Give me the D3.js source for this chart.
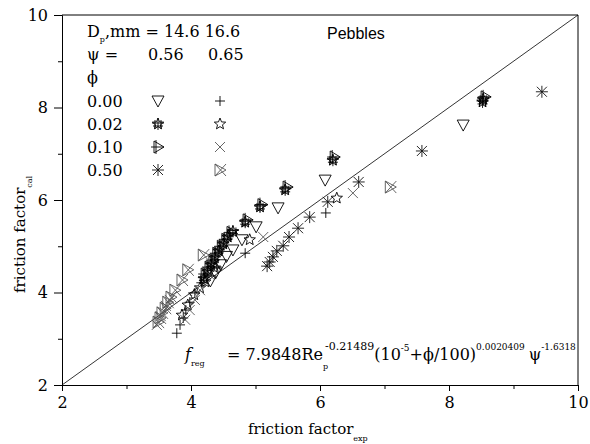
<!DOCTYPE html>
<html>
<head>
<meta charset="utf-8">
<script src="https://cdn.jsdelivr.net/npm/d3@7"></script>
<style>
  body { margin: 0; background: #fff; }
  svg text { font-family: "DejaVu Serif", serif; fill: #000; }
</style>
</head>
<body>
<div id="chart"></div>
<script>
// axis ticks
var majorTicks = [2, 4, 6, 8, 10],
    minorTicks = [3, 5, 7, 9];

// psi = 0.56 (Dp = 14.6 mm)
var tri000 = [[4.30,4.25],[4.38,4.42],[4.46,4.60],[4.55,4.78],[4.65,4.92],[4.79,5.14],[5.01,5.42],[5.35,5.83],[6.08,6.43],[8.22,7.62]];
var star002 = [[4.20,4.30],[4.26,4.45],[4.31,4.60],[4.37,4.75],[4.43,4.90],[4.50,5.05],[4.57,5.20],[4.65,5.32],[4.84,5.52],[5.07,5.85],[5.46,6.22],[6.20,6.86],[8.52,8.12],[8.53,8.18]];
var triPlus010 = [[4.22,4.40],[4.28,4.55],[4.34,4.70],[4.40,4.85],[4.47,5.00],[4.54,5.15],[4.62,5.30],[4.87,5.57],[5.10,5.90],[5.49,6.28],[6.22,6.93],[8.56,8.23]];
var ast050 = [[5.18,4.57],[5.22,4.66],[5.27,4.77],[5.33,4.90],[5.43,5.01],[5.52,5.20],[5.66,5.39],[5.84,5.63],[6.12,5.96],[6.60,6.39],[7.58,7.06],[9.44,8.34]];

// psi = 0.65 (Dp = 16.6 mm)
var plus000 = [[3.78,3.12],[3.83,3.30],[3.88,3.45],[3.92,3.62],[3.98,3.79],[4.06,3.99],[4.16,4.21],[4.26,4.38],[4.40,4.55],[4.84,4.85],[6.09,5.72]];
var openStar002 = [[3.86,3.51],[3.95,3.73],[4.05,3.95],[4.14,4.10],[4.22,4.23],[4.37,4.53],[4.91,5.14],[6.26,6.04]];
var x010 = [[3.47,3.30],[3.53,3.49],[3.61,3.71],[3.67,3.84],[3.91,3.41],[3.98,3.62],[4.06,3.84],[4.14,4.05],[4.29,4.38],[5.12,5.20],[6.51,6.15]];
var triX050 = [[3.49,3.36],[3.52,3.45],[3.55,3.56],[3.60,3.66],[3.64,3.79],[3.69,3.90],[3.75,4.05],[3.86,4.27],[3.95,4.49],[4.19,4.81],[7.09,6.28]];

var phiLabels = ["0.00", "0.02", "0.10", "0.50"];

// set SVG
var svg = d3.select("#chart").append("svg")
    .attr("width", 590)
    .attr("height", 444);

var x = d3.scaleLinear().domain([2, 10]).range([62, 578]);
var y = d3.scaleLinear().domain([2, 10]).range([385, 15]);

// marker shapes
function starPath(ro, ri) {
    var p = "";
    for (var i = 0; i < 10; i++) {
        var r = i % 2 ? ri : ro,
            a = -Math.PI / 2 + i * Math.PI / 5;
        p += (i ? "L" : "M") + (r * Math.cos(a)).toFixed(2) + "," + (r * Math.sin(a)).toFixed(2);
    }
    return p + "Z";
}
var shapes = {
    triDown: "M-6,-5L6,-5L0,6Z",
    darkStar: starPath(6, 2.6) + "M-6,-1H6M-5,2H5M0,-6V6M-3,-4V5M3,-4V5",
    triPlus: "M-4,-6L6,0L-4,6ZM-2,-7V7M-7,0H6",
    asterisk: "M-6,0H6M0,-6V6M-5,-5L5,5M-5,5L5,-5",
    plus: "M-5,0H5M0,-5V5",
    openStar: starPath(6, 2.6),
    cross: "M-5,-5L5,5M-5,5L5,-5",
    triX: "M-5,-6L6,0L-5,6ZM-5,-6L6,6M-5,6L6,-6"
};

var series = [
    { data: tri000, shape: "triDown", color: "#000", col: 0, row: 0 },
    { data: star002, shape: "darkStar", color: "#000", col: 0, row: 1 },
    { data: triPlus010, shape: "triPlus", color: "#000", col: 0, row: 2 },
    { data: ast050, shape: "asterisk", color: "#111", col: 0, row: 3 },
    { data: plus000, shape: "plus", color: "#000", col: 1, row: 0 },
    { data: openStar002, shape: "openStar", color: "#000", col: 1, row: 1 },
    { data: x010, shape: "cross", color: "#555", col: 1, row: 2 },
    { data: triX050, shape: "triX", color: "#555", col: 1, row: 3 }
];

// axes
svg.append("g").attr("transform", "translate(0,385)")
    .call(d3.axisBottom(x).tickValues(majorTicks).tickSize(6).tickPadding(6).tickFormat(d3.format("d")));
svg.append("g").attr("transform", "translate(0,385)")
    .call(d3.axisBottom(x).tickValues(minorTicks).tickSize(4).tickFormat(""))
    .select(".domain").remove();
svg.append("g").attr("transform", "translate(62,0)")
    .call(d3.axisLeft(y).tickValues(majorTicks).tickSize(8).tickPadding(6).tickFormat(d3.format("d")));
svg.append("g").attr("transform", "translate(62,0)")
    .call(d3.axisLeft(y).tickValues(minorTicks).tickSize(4).tickFormat(""))
    .select(".domain").remove();
svg.selectAll(".tick text").attr("font-size", "16px").attr("font-family", "DejaVu Serif");
svg.selectAll(".domain, .tick line").attr("stroke", "#000");

// frame
svg.append("path")
    .attr("d", "M" + x(2) + "," + y(10) + "H" + x(10) + "V" + y(2))
    .attr("fill", "none").attr("stroke", "#000");

// y = x line
svg.append("line")
    .attr("x1", x(2)).attr("y1", y(2))
    .attr("x2", x(10)).attr("y2", y(10))
    .attr("stroke", "#000").attr("stroke-width", 0.8);

// points
series.forEach(function(s) {
    svg.selectAll(null)
        .data(s.data)
        .enter().append("path")
        .attr("d", shapes[s.shape])
        .attr("transform", function(d) { return "translate(" + x(d[0]) + "," + y(d[1]) + ")"; })
        .attr("fill", "none")
        .attr("stroke", s.color)
        .attr("stroke-width", 0.9);
});

// legend
var legend = svg.append("g").attr("font-size", "16px");
var t1 = legend.append("text").attr("x", 87).attr("y", 37);
t1.append("tspan").text("D");
t1.append("tspan").attr("font-size", "8px").attr("dy", 5).text("p");
t1.append("tspan").attr("dy", -5).text(",mm = 14.6 16.6");
legend.append("text").attr("x", 87).attr("y", 60).text("\u03c8 =");
legend.append("text").attr("x", 148).attr("y", 60).text("0.56");
legend.append("text").attr("x", 208).attr("y", 60).text("0.65");
legend.append("text").attr("x", 87).attr("y", 83).text("\u03d5");

phiLabels.forEach(function(lab, i) {
    legend.append("text").attr("x", 87).attr("y", 107 + i * 23).text(lab);
});
series.forEach(function(s) {
    legend.append("path")
        .attr("d", shapes[s.shape])
        .attr("transform", "translate(" + (s.col ? 220 : 158) + "," + (101 + s.row * 23) + ")")
        .attr("fill", "none")
        .attr("stroke", s.color)
        .attr("stroke-width", 0.9);
});

svg.append("text")
    .attr("x", 327).attr("y", 39)
    .attr("font-size", "16px")
    .style("font-family", "Liberation Sans, Arial, sans-serif")
    .text("Pebbles");

// formula
var f = svg.append("text").attr("x", 185).attr("y", 360).attr("font-size", "16px");
f.append("tspan").attr("font-style", "italic").text("f");
f.append("tspan").attr("font-size", "8px").attr("dy", 6).text("reg");
f.append("tspan").attr("x", 227).attr("dy", -6).text("= 7.9848Re");
f.append("tspan").attr("font-size", "11px").attr("dy", -10).attr("dx", 2).text("-0.21489");
f.append("tspan").attr("dy", 10).text("(10");
f.append("tspan").attr("font-size", "9px").attr("dy", -9).text("-5");
f.append("tspan").attr("dy", 9).text("+\u03d5/100)");
f.append("tspan").attr("font-size", "9px").attr("dy", -10).text("0.0020409");
f.append("tspan").attr("dy", 10).attr("dx", 4).text("\u03c8");
f.append("tspan").attr("font-size", "9px").attr("dy", -10).text("-1.6318");
svg.append("text").attr("x", 323).attr("y", 369).attr("font-size", "8px").text("p");

// axis titles
var xt = svg.append("text").attr("x", 248).attr("y", 434).attr("font-size", "15px");
xt.append("tspan").text("friction factor");
xt.append("tspan").attr("font-size", "8px").attr("dy", 7).text("exp");

var yt = svg.append("text")
    .attr("transform", "translate(25,293) rotate(-90)")
    .attr("font-size", "15px");
yt.append("tspan").text("friction factor");
yt.append("tspan").attr("font-size", "8px").attr("dy", 7).text("cal");
</script>
</body>
</html>
